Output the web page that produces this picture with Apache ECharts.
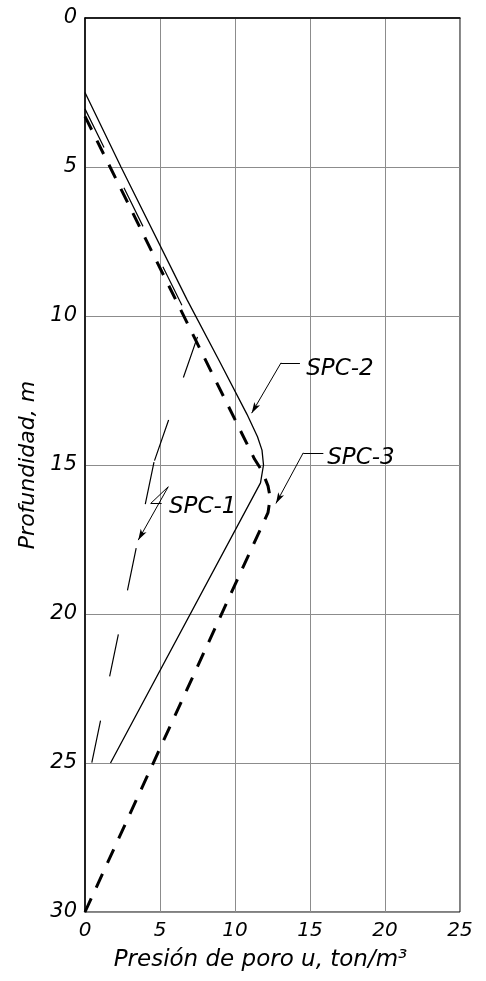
<!DOCTYPE html>
<html>
<head>
<meta charset="utf-8">
<script src="https://cdn.jsdelivr.net/npm/echarts@6/dist/echarts.min.js"></script>
<style>
html,body{margin:0;padding:0;background:#fff;}
#chartWrapper{width:486px;height:981px;}
</style>
</head>
<body>
<div id="chartWrapper"></div>
<script>
// ejes
var pressureTicks = [0, 5, 10, 15, 20, 25];
var depthTicks = [0, 5, 10, 15, 20, 25, 30];

// curvas [u, profundidad]
var spc1 = [[0, 3.05], [7.5, 10.7], [4.6, 14.9], [0.45, 25]];
var spc2 = [[0, 2.5], [2.4, 5.0], [6.8, 9.45], [9.0, 11.55], [10.8, 13.3], [11.5, 14.05], [11.8, 14.5], [11.9, 15.0], [11.7, 15.6], [1.7, 25]];
var spc3 = [[0, 3.3], [11.3, 14.8], [11.8, 15.2], [12.2, 15.7], [12.35, 16.1], [12.2, 16.6], [0, 30]];

// etiquetas y lineas de referencia
var curveLabels = [[14.75, 11.78, 'SPC-2'], [16.15, 14.77, 'SPC-3'], [5.6, 16.42, 'SPC-1']];
var leaderLines = [
    [[14.33, 11.57], [13.07, 11.57]],
    [[15.89, 14.59], [14.55, 14.59]],
    [[5.55, 15.73], [4.38, 16.29]],
    [[4.38, 16.29], [5.11, 16.29]]
];
var leaderArrows = [
    [[13.07, 11.57], [11.11, 13.26]],
    [[14.55, 14.59], [12.73, 16.29]],
    [[5.55, 15.73], [3.55, 17.52]]
];

var chart = echarts.init(document.getElementById('chartWrapper'));

var font = 'DejaVu Sans';

var markData = [];
leaderLines.forEach(function (l) {
    markData.push([{coord: l[0], symbol: 'none'}, {coord: l[1], symbol: 'none'}]);
});
leaderArrows.forEach(function (l) {
    markData.push([{coord: l[0], symbol: 'none'}, {coord: l[1], symbol: 'arrow', symbolSize: [5, 11]}]);
});

var series = [];

// SPC-1: el patron de trazos empieza de nuevo en cada tramo (como en CAD)
for (var i = 0; i < spc1.length - 1; i++) {
    series.push({
        name: 'SPC-1',
        type: 'line',
        data: [spc1[i], spc1[i + 1]],
        symbol: 'none',
        lineStyle: {color: '#000', width: 1.2, type: [43, 45]},
        z: 3
    });
}

series.push({
    name: 'SPC-2',
    type: 'line',
    data: spc2,
    symbol: 'none',
    lineStyle: {color: '#000', width: 1.3, type: 'solid'},
    z: 3
});

series.push({
    name: 'SPC-3',
    type: 'line',
    data: spc3,
    symbol: 'none',
    lineStyle: {color: '#000', width: 3, type: [15, 12]},
    z: 4
});

series.push({
    name: 'etiquetas',
    type: 'scatter',
    data: curveLabels,
    symbolSize: 0,
    silent: true,
    itemStyle: {opacity: 1, color: '#000'},
    label: {
        show: true,
        position: 'right',
        distance: 0,
        formatter: function (p) { return p.value[2]; },
        fontFamily: font,
        fontStyle: 'italic',
        fontSize: 23,
        color: '#000'
    },
    markLine: {
        silent: true,
        animation: false,
        label: {show: false},
        lineStyle: {color: '#000', width: 1, type: 'solid', opacity: 1},
        emphasis: {disabled: true},
        data: markData
    },
    z: 5
});

var option = {
    backgroundColor: '#fff',
    animation: false,
    grid: {
        left: 85,
        right: 26,
        top: 18,
        bottom: 69,
        show: true,
        borderColor: '#000',
        borderWidth: 1
    },
    xAxis: {
        type: 'value',
        min: pressureTicks[0],
        max: pressureTicks[pressureTicks.length - 1],
        interval: pressureTicks[1] - pressureTicks[0],
        name: 'Presión de poro u, ton/m³',
        nameLocation: 'middle',
        nameGap: 37,
        nameTextStyle: {
            fontFamily: font,
            fontStyle: 'italic',
            fontSize: 23,
            color: '#000',
            padding: [0, 24, 0, 0]
        },
        axisLine: {lineStyle: {color: '#000', width: 1.5}},
        axisTick: {show: false},
        axisLabel: {
            margin: 9,
            fontFamily: font,
            fontStyle: 'italic',
            fontSize: 20,
            color: '#000'
        },
        splitLine: {lineStyle: {color: '#8c8c8c', width: 1}}
    },
    yAxis: {
        type: 'value',
        inverse: true,
        min: depthTicks[0],
        max: depthTicks[depthTicks.length - 1],
        interval: depthTicks[1] - depthTicks[0],
        name: 'Profundidad, m',
        nameLocation: 'middle',
        nameGap: 42,
        nameTextStyle: {
            fontFamily: font,
            fontStyle: 'italic',
            fontSize: 22,
            color: '#000'
        },
        axisLine: {lineStyle: {color: '#000', width: 1.5}},
        axisTick: {show: false},
        axisLabel: {
            margin: 8,
            fontFamily: font,
            fontStyle: 'italic',
            fontSize: 21,
            color: '#000'
        },
        splitLine: {lineStyle: {color: '#8c8c8c', width: 1}}
    },
    series: series
};

chart.setOption(option);
</script>
</body>
</html>
